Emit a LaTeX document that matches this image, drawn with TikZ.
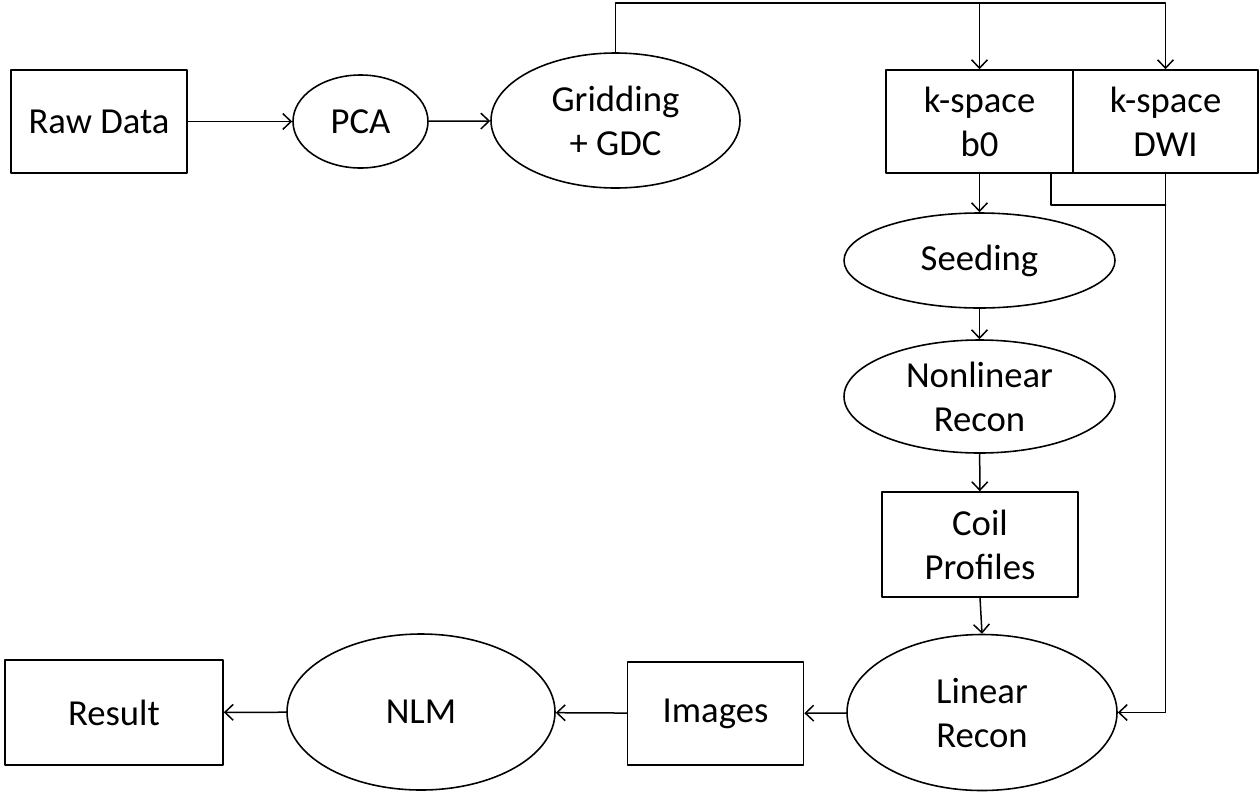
\documentclass[tikz,border=0pt]{standalone}
\usepackage{fontspec}
\setmainfont{Carlito}
\usetikzlibrary{shapes.geometric,arrows.meta}

\begin{document}
\begin{tikzpicture}[
  x=0.6pt, y=-0.6pt,
  line cap=round, line join=round,
  every node/.style={font=\fontsize{22}{26.4}\selectfont, inner sep=0pt, align=center},
  box/.style={draw=black, line width=0.95pt, rectangle},
  stage/.style={draw=black, line width=0.95pt, ellipse},
  flow/.style={draw=black, line width=0.9pt, >={Straight Barb[length=5pt,width=9.5pt]}},
]
\useasboundingbox (0,0) rectangle (1260,793);
% top row
\node[box, minimum width=105.6pt, minimum height=61.8pt] (raw) at (99,121.5) {Raw Data};
\node[stage, minimum width=81pt, minimum height=55.8pt] (pca) at (360.5,121.5) {PCA};
\node[stage, minimum width=149.4pt, minimum height=81pt] (grid) at (615.5,120.5) {Gridding\\+ GDC};
\node[box, minimum width=112.2pt, minimum height=61.8pt] (kb0) at (979.5,121.5) {k-space\\b0};
\node[box, minimum width=111pt, minimum height=61.8pt] (kdwi) at (1165.5,121.5) {k-space\\DWI};
% right column
\node[stage, minimum width=162.6pt, minimum height=57pt] (seed) at (979.5,260.5) {Seeding};
\node[stage, minimum width=162.6pt, minimum height=67.8pt] (nonlin) at (979.5,396.5) {Nonlinear\\Recon};
\node[box, minimum width=117.6pt, minimum height=63pt] (coil) at (980,544.5) {Coil\\Profiles};
\node[stage, minimum width=162pt, minimum height=93.6pt] (linrec) at (982,712.5) {Linear\\Recon};
% bottom row
\node[box, minimum width=105.6pt, minimum height=61.8pt] (img) at (715.5,713.5) {Images};
\node[stage, minimum width=160.8pt, minimum height=93.6pt] (nlm) at (421,712) {NLM};
\node[box, minimum width=130.8pt, minimum height=63pt] (result) at (114,712.5) {Result};
% helper points
\coordinate (top) at (615.5,3);
\coordinate (topb0) at (979.5,3);
\coordinate (b0out) at (1051,173);
\coordinate (join) at (1165.5,205);

\draw[flow, ->] (raw) -- (pca);
\draw[flow, ->] (pca) -- (grid);
\draw[flow, ->] (grid.north) -- (top) -| (kdwi.north);
\draw[flow, ->] (topb0) -- (kb0.north);
\draw[flow, ->] (kb0.south) -- (seed.north);
\draw[flow, ->] (seed) -- (nonlin);
\draw[flow, ->] (nonlin) -- (coil);
\draw[flow, ->] (coil.south) -- (linrec.north);
\draw[flow] (b0out) |- (join);
\draw[flow, ->] (kdwi.south) |- (linrec.east);
\draw[flow, ->] (linrec) -- (img);
\draw[flow, ->] (img) -- (nlm);
\draw[flow, ->] (nlm) -- (result);
\end{tikzpicture}
\end{document}
